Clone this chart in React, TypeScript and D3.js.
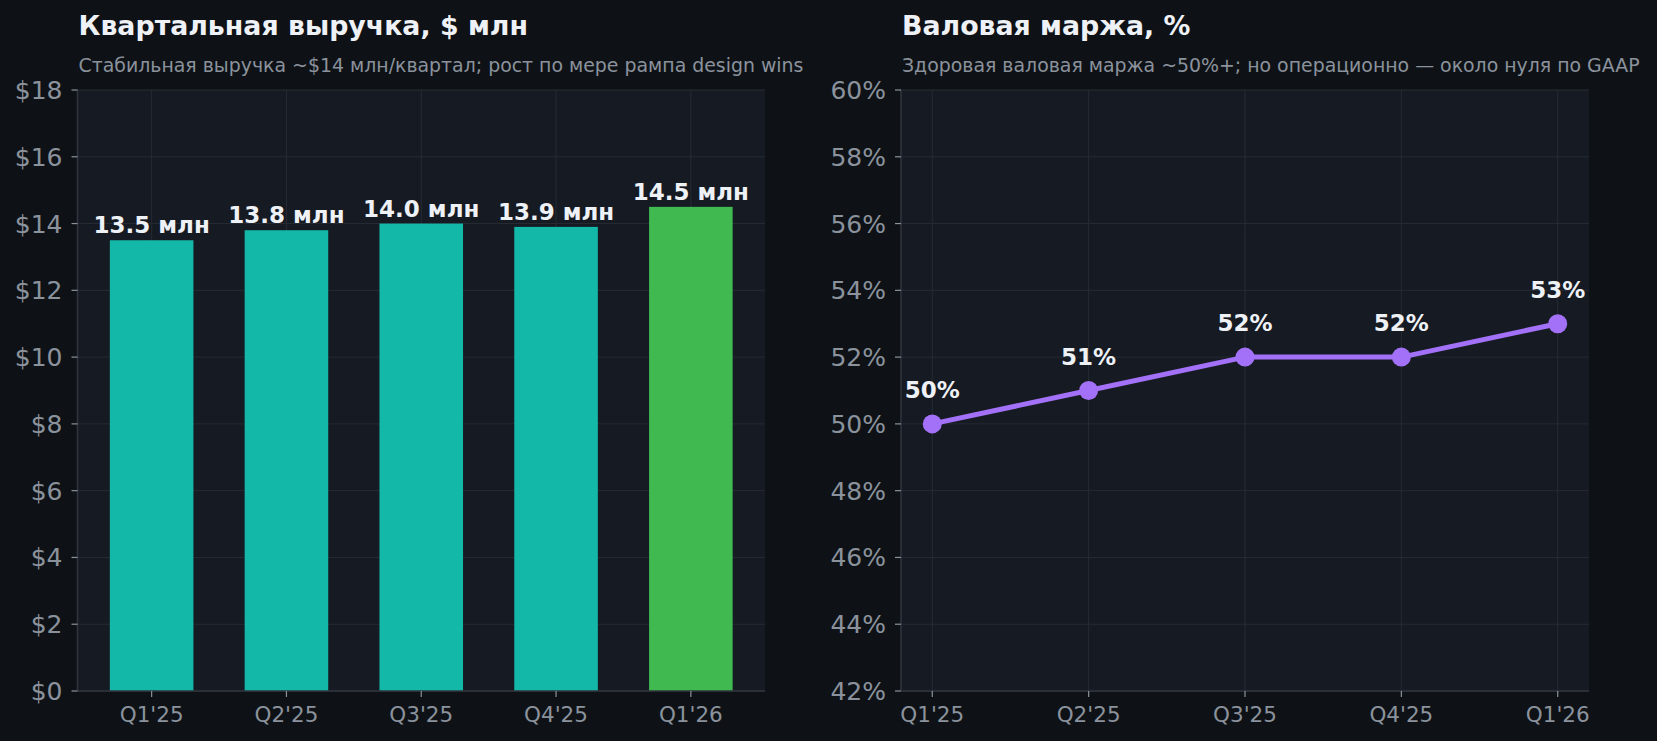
import * as d3 from 'd3'

const QUARTERS = ["Q1'25", "Q2'25", "Q3'25", "Q4'25", "Q1'26"]
const REVENUE = [13.5, 13.8, 14.0, 13.9, 14.5]
const MARGIN = [50, 51, 52, 52, 53]
const REVENUE_TICKS = [0, 2, 4, 6, 8, 10, 12, 14, 16, 18]
const MARGIN_TICKS = [42, 44, 46, 48, 50, 52, 54, 56, 58, 60]

const W = 1657
const H = 741
const TOP = 90
const BOTTOM = 691
const FONT = "'DejaVu Sans', sans-serif"

const BG = '#0e1217'
const PANEL = '#161a22'
const GRID = '#262b34'
const SPINE = '#30353e'
const MUTED = '#8b929c'
const TEXT = '#eef1f5'
const TEAL = '#14b8a8'
const GREEN = '#3fb950'
const PURPLE = '#a371f7'

function Frame({ x0, x1, y, ticks, xs, title, subtitle }: {
  x0: number; x1: number; y: d3.ScaleLinear<number, number>; ticks: number[]
  xs: d3.ScalePoint<string>; title: string; subtitle: string
}) {
  return (
    <g>
      <rect x={x0} y={TOP} width={x1 - x0} height={BOTTOM - TOP} fill={PANEL} />
      {ticks.map(t => (
        <line key={'h' + t} x1={x0} x2={x1} y1={y(t)} y2={y(t)} stroke={GRID} strokeWidth={1} />
      ))}
      {QUARTERS.map(q => (
        <line key={'v' + q} x1={xs(q)} x2={xs(q)} y1={TOP} y2={BOTTOM} stroke={GRID} strokeWidth={1} />
      ))}
      <text x={x0 + 1} y={35} fill={TEXT} fontFamily={FONT} fontWeight="bold" fontSize={26.8}>{title}</text>
      <text x={x0 + 1} y={72} fill={MUTED} fontFamily={FONT} fontSize={18.9}>{subtitle}</text>
    </g>
  )
}

function Axes({ x0, x1, y, ticks, fmt, xs }: {
  x0: number; x1: number; y: d3.ScaleLinear<number, number>; ticks: number[]
  fmt: (v: number) => string; xs: d3.ScalePoint<string>
}) {
  return (
    <g>
      <line x1={x0} x2={x0} y1={TOP} y2={BOTTOM} stroke={SPINE} strokeWidth={1.5} />
      <line x1={x0} x2={x1} y1={BOTTOM} y2={BOTTOM} stroke={SPINE} strokeWidth={1.5} />
      {ticks.map(t => (
        <g key={t}>
          <line x1={x0 - 6} x2={x0} y1={y(t)} y2={y(t)} stroke={MUTED} strokeWidth={1.2} />
          <text x={x0 - 15} y={y(t)} dy="0.36em" textAnchor="end" fill={MUTED} fontFamily={FONT} fontSize={25}>{fmt(t)}</text>
        </g>
      ))}
      {QUARTERS.map(q => (
        <g key={q}>
          <line x1={xs(q)} x2={xs(q)} y1={BOTTOM} y2={BOTTOM + 6} stroke={MUTED} strokeWidth={1.2} />
          <text x={xs(q)} y={722} textAnchor="middle" fill={MUTED} fontFamily={FONT} fontSize={21.5}>{q}</text>
        </g>
      ))}
    </g>
  )
}

function RevenuePanel() {
  const x0 = 77.5, x1 = 765
  const xs = d3.scalePoint<string>().domain(QUARTERS).range([x0, x1]).padding(0.55)
  const y = d3.scaleLinear().domain([0, 18]).range([BOTTOM, TOP])
  const bw = xs.step() * 0.62
  const fmt = (v: number) => `$${v}`
  return (
    <g>
      <Frame x0={x0} x1={x1} y={y} ticks={REVENUE_TICKS} xs={xs}
        title="Квартальная выручка, $ млн"
        subtitle="Стабильная выручка ~$14 млн/квартал; рост по мере рампа design wins" />
      {REVENUE.map((v, i) => (
        <rect key={i} x={xs(QUARTERS[i])! - bw / 2} y={y(v)} width={bw} height={BOTTOM - y(v)}
          fill={i === REVENUE.length - 1 ? GREEN : TEAL} />
      ))}
      {REVENUE.map((v, i) => (
        <text key={'l' + i} x={xs(QUARTERS[i])} y={y(v) - 7} textAnchor="middle" fill={TEXT}
          fontFamily={FONT} fontWeight="bold" fontSize={23}>{`${v.toFixed(1)} млн`}</text>
      ))}
      <Axes x0={x0} x1={x1} y={y} ticks={REVENUE_TICKS} fmt={fmt} xs={xs} />
    </g>
  )
}

function MarginPanel() {
  const x0 = 901, x1 = 1589
  const xs = d3.scalePoint<string>().domain(QUARTERS).range([x0, x1]).padding(0.2)
  const y = d3.scaleLinear().domain([42, 60]).range([BOTTOM, TOP])
  const fmt = (v: number) => `${v}%`
  const line = d3.line<number>().x((_, i) => xs(QUARTERS[i])!).y(d => y(d))
  return (
    <g>
      <Frame x0={x0} x1={x1} y={y} ticks={MARGIN_TICKS} xs={xs}
        title="Валовая маржа, %"
        subtitle="Здоровая валовая маржа ~50%+; но операционно — около нуля по GAAP" />
      <path d={line(MARGIN)!} fill="none" stroke={PURPLE} strokeWidth={5} strokeLinejoin="round" />
      {MARGIN.map((v, i) => (
        <circle key={i} cx={xs(QUARTERS[i])} cy={y(v)} r={9.5} fill={PURPLE} />
      ))}
      {MARGIN.map((v, i) => (
        <text key={'l' + i} x={xs(QUARTERS[i])} y={y(v) - 26} textAnchor="middle" fill={TEXT}
          fontFamily={FONT} fontWeight="bold" fontSize={23}>{`${v}%`}</text>
      ))}
      <Axes x0={x0} x1={x1} y={y} ticks={MARGIN_TICKS} fmt={fmt} xs={xs} />
    </g>
  )
}

export default function App() {
  return (
    <svg width={W} height={H} viewBox={`0 0 ${W} ${H}`}
      style={{ position: 'absolute', left: 0, top: 0, display: 'block' }}>
      <rect width={W} height={H} fill={BG} />
      <RevenuePanel />
      <MarginPanel />
    </svg>
  )
}
